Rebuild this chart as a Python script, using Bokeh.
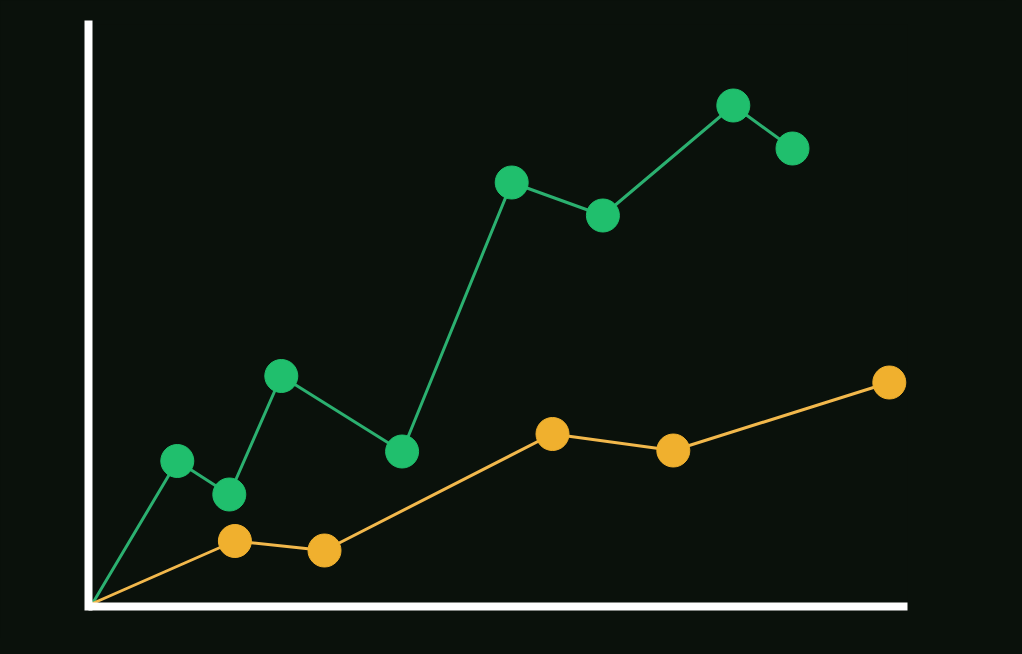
from bokeh.plotting import figure
from bokeh.models import FixedTicker, Range1d
from bokeh.embed import file_html
from bokeh.resources import INLINE

# Data (arbitrary units)
green_x = [0, 10.6, 17.1, 23.6, 38.7, 52.4, 63.8, 80.1, 87.5]
green_y = [0, 28.5, 21.8, 45.5, 30.4, 84.2, 77.6, 99.6, 91.0]
orange_x = [0, 17.8, 29.0, 57.5, 72.6, 99.6]
orange_y = [0, 12.5, 10.6, 33.9, 30.6, 44.2]

BG = "#0a110b"
GREEN = "#20bf6d"
GREEN_LINE = "#2bb070"
ORANGE = "#f0b02e"
ORANGE_LINE = "#f2b84c"

p = figure(width=1006, height=638, output_backend="svg", toolbar_location=None,
           x_range=Range1d(-0.5, 101.875), y_range=Range1d(-0.6, 115.8),
           min_border_left=88, min_border_right=99, min_border_top=24, min_border_bottom=32)
p.background_fill_color = None
p.border_fill_color = BG
p.outline_line_color = None
p.grid.visible = False

for ax in (p.xaxis[0], p.yaxis[0]):
    ax.ticker = FixedTicker(ticks=[])
    ax.axis_line_color = "white"
    ax.axis_line_width = 8
    ax.major_tick_line_color = None
    ax.minor_tick_line_color = None
    ax.major_label_text_font_size = "0px"
p.yaxis[0].axis_line_cap = "square"
p.xaxis[0].axis_line_cap = "butt"

p.line(green_x, green_y, line_color=GREEN_LINE, line_width=3)
p.line(orange_x, orange_y, line_color=ORANGE_LINE, line_width=3)
p.scatter(green_x[1:], green_y[1:], size=33, fill_color=GREEN, line_color=GREEN)
p.scatter(orange_x[1:], orange_y[1:], size=33, fill_color=ORANGE, line_color=ORANGE)

html = file_html(p, INLINE)
html = html.replace("</head>", "<style>html, body { background: %s !important; }</style></head>" % BG, 1)
open("out.html", "w").write(html)
